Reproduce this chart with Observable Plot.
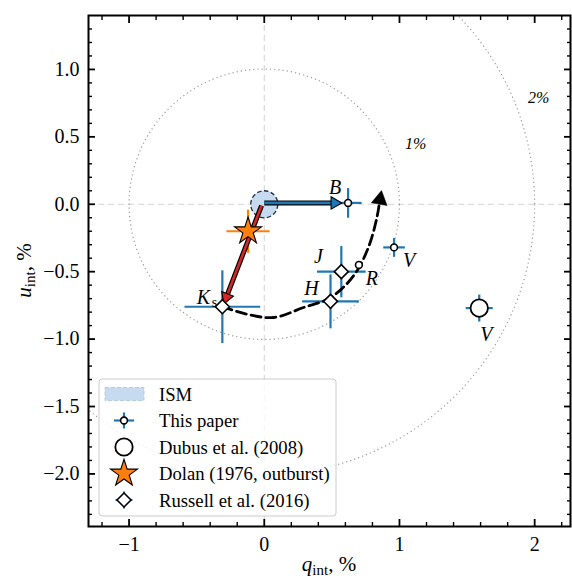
<!DOCTYPE html>
<html><head><meta charset="utf-8">
<script src="https://cdn.jsdelivr.net/npm/d3@7"></script>
<script src="https://cdn.jsdelivr.net/npm/@observablehq/plot@0.6"></script>
<style>
body{margin:0;background:#fff;}
#chart{width:572px;height:579px;}
</style></head><body><div id="chart"></div>
<script>
// ---------------- data ----------------
const thisPaperBand = ["B", "V", "R"];
const thisPaperQ = [0.62, 0.96, 0.70];
const thisPaperU = [0.01, -0.32, -0.45];
const thisPaperQErr = [0.10, 0.08, 0.02];
const thisPaperUErr = [0.11, 0.07, 0.02];

const dubusBand = ["V"];
const dubusQ = [1.59];
const dubusU = [-0.77];
const dubusQErr = [0.10];
const dubusUErr = [0.10];

const dolanQ = [-0.12];
const dolanU = [-0.20];
const dolanQErr = [0.16];
const dolanUErr = [0.16];

const russellBand = ["Ks", "J", "H"];
const russellQ = [-0.31, 0.57, 0.49];
const russellU = [-0.76, -0.50, -0.72];
const russellQErr = [0.28, 0.18, 0.21];
const russellUErr = [0.27, 0.19, 0.20];

const ismQ = [0.0];
const ismU = [0.0];
const ismRadius = [0.1];

const circleRadii = [1, 2];
const circleLabels = ["1%", "2%"];
const circleLabelQ = [1.12, 2.03];
const circleLabelU = [0.45, 0.79];

// ISM -> B and ISM -> Ks arrows
const arrowFromQ = [0.0, -0.02];
const arrowFromU = [0.01, -0.01];
const arrowToQ = [0.575, -0.30];
const arrowToU = [0.01, -0.74];

// dashed rotation path
const arcQ = [-0.31, -0.13, 0.07, 0.29, 0.49, 0.66, 0.77, 0.833, 0.85];
const arcU = [-0.76, -0.815, -0.84, -0.766, -0.692, -0.531, -0.321, -0.099, 0.0];

const xTicks = [-1, 0, 1, 2];
const yTicks = [1.0, 0.5, 0.0, -0.5, -1.0, -1.5, -2.0];
const xMinorTicks = [-1.2, -0.8, -0.6, -0.4, -0.2, 0.2, 0.4, 0.6, 0.8, 1.2, 1.4, 1.6, 1.8, 2.2];
const yMinorTicks = [1.3, 1.2, 1.1, 0.9, 0.8, 0.7, 0.6, 0.4, 0.3, 0.2, 0.1, -0.1, -0.2, -0.3, -0.4,
  -0.6, -0.7, -0.8, -0.9, -1.1, -1.2, -1.3, -1.4, -1.6, -1.7, -1.8, -1.9, -2.1, -2.2, -2.3];
const legendLabels = ["ISM", "This paper", "Dubus et al. (2008)", "Dolan (1976, outburst)", "Russell et al. (2016)"];

// ---------------- layout ----------------
const W = 572, H = 579, mL = 88, mR = 2, mT = 15, mB = 53;
const xDomain = [-1.30, 2.265], yDomain = [-2.39, 1.40];
const k = (W - mL - mR) / (xDomain[1] - xDomain[0]);
const FONT = "'Liberation Serif', 'Times New Roman', serif";
const BLUE = "#1f77b4", ORANGE = "#ff7f0e", RED = "#d62728";

const rows = (band, q, u, eq, eu) => q.map((_, i) => ({band: band ? band[i] : "", q: q[i], u: u[i], eq: eq[i], eu: eu[i]}));
const tp = rows(thisPaperBand, thisPaperQ, thisPaperU, thisPaperQErr, thisPaperUErr);
const dub = rows(dubusBand, dubusQ, dubusU, dubusQErr, dubusUErr);
const dol = rows(null, dolanQ, dolanU, dolanQErr, dolanUErr);
const rus = rows(russellBand, russellQ, russellU, russellQErr, russellUErr);
const ism = ismQ.map((q, i) => ({q, u: ismU[i], r: ismRadius[i]}));
const rings = circleRadii.map(r => ({r}));
const ringLabels = circleLabels.map((t, i) => ({t, q: circleLabelQ[i], u: circleLabelU[i]}));
const arc = arcQ.map((q, i) => ({q, u: arcU[i]}));

// arrow geometry (equal aspect => data-space directions are screen directions)
const headLen = 11 / k;
const arrows = arrowFromQ.map((q, i) => {
  const dx = arrowToQ[i] - q, dy = arrowToU[i] - arrowFromU[i];
  const L = Math.hypot(dx, dy), ux = dx / L, uy = dy / L;
  return {
    q1: q, u1: arrowFromU[i],
    qb: arrowToQ[i] - ux * headLen, ub: arrowToU[i] - uy * headLen,
    qc: arrowToQ[i] - ux * headLen * 2 / 3, uc: arrowToU[i] - uy * headLen * 2 / 3,
    rot: Math.atan2(dx, dy) * 180 / Math.PI,
    color: i === 0 ? BLUE : RED
  };
});
const aN = arc.length;
const adx = arc[aN - 1].q - arc[aN - 2].q, ady = arc[aN - 1].u - arc[aN - 2].u;
const aL = Math.hypot(adx, ady);
const arcHead = [{
  q: arc[aN - 1].q + adx / aL * (4.7 / k),
  u: arc[aN - 1].u + ady / aL * (4.7 / k),
  rot: Math.atan2(adx, ady) * 180 / Math.PI
}];

const errMarks = (data, color) => [
  Plot.link(data, {x1: d => d.q - d.eq, x2: d => d.q + d.eq, y1: "u", y2: "u", stroke: color, strokeWidth: 2.2}),
  Plot.link(data, {x1: "q", x2: "q", y1: d => d.u - d.eu, y2: d => d.u + d.eu, stroke: color, strokeWidth: 2.2})
];

const labelOffsets = {
  B: [-13, -15, tp, 0], V: [15, 13, tp, 1], R: [13, 14, tp, 2],
  J: [-23, -15, rus, 1], H: [-19, -13, rus, 2], Ks: [-19, -9, rus, 0], VD: [7, 27, dub, 0]
};
const labelMarks = Object.entries(labelOffsets).map(([key, [dx, dy, arr, i]]) =>
  Plot.text([arr[i]], {x: "q", y: "u", text: () => key === "VD" ? "V" : key === "Ks" ? "K" : key,
    dx, dy, fontSize: 20, fontStyle: "italic", fill: "black", fontFamily: FONT}));
labelMarks.push(Plot.text([rus[0]], {x: "q", y: "u", text: () => "s", dx: -8, dy: -4, fontSize: 14, fill: "black", fontFamily: FONT}));

const fmtY = d => (d < 0 ? "\u2212" : "") + Math.abs(d).toFixed(1);
const fmtX = d => (d < 0 ? "\u2212" : "") + Math.abs(d).toFixed(0);

const plot = Plot.plot({
  width: W, height: H,
  marginLeft: mL, marginRight: mR, marginTop: mT, marginBottom: mB,
  x: {domain: xDomain},
  y: {domain: yDomain},
  r: {type: "linear", domain: [0, 1], range: [0, k]},
  style: {fontFamily: FONT, fontSize: "17px", color: "black", background: "white", overflow: "visible"},
  marks: [
    Plot.ruleX([0], {stroke: "#d4d4d4", strokeDasharray: "6,4", strokeWidth: 1.1}),
    Plot.ruleY([0], {stroke: "#d4d4d4", strokeDasharray: "6,4", strokeWidth: 1.1}),
    Plot.dot(rings, {x: () => 0, y: () => 0, r: "r", fill: "none", stroke: "#9c9c9c", strokeWidth: 1.2, strokeDasharray: "1.2,3", clip: true}),
    Plot.text(ringLabels, {x: "q", y: "u", text: "t", fontSize: 16, fontStyle: "italic", fill: "black", fontFamily: FONT}),
    Plot.dot(ism, {x: "q", y: "u", r: "r", fill: "#c6dbef", stroke: "#1d2b45", strokeWidth: 1.3, strokeDasharray: "4.5,2.5"}),
    ...errMarks(tp, BLUE),
    ...errMarks(dub, BLUE),
    ...errMarks(rus, BLUE),
    ...errMarks(dol, ORANGE),
    Plot.line(arc, {x: "q", y: "u", curve: "catmull-rom", stroke: "black", strokeWidth: 2.8, strokeDasharray: "10,5"}),
    Plot.dot(arcHead, {x: "q", y: "u", symbol: "triangle", r: 5.9, rotate: "rot", fill: "black", stroke: "black", strokeWidth: 0.5}),
    Plot.link(arrows, {x1: "q1", y1: "u1", x2: "qb", y2: "ub", stroke: "black", strokeWidth: 5}),
    Plot.link(arrows, {x1: "q1", y1: "u1", x2: "qb", y2: "ub", stroke: "color", strokeWidth: 2.6}),
    Plot.dot(arrows, {x: "qc", y: "uc", symbol: "triangle", r: 4.6, rotate: "rot", fill: "color", stroke: "black", strokeWidth: 1.1}),
    Plot.dot(dol, {x: "q", y: "u", symbol: "star", r: 8.5, fill: ORANGE, stroke: "black", strokeWidth: 1.1}),
    Plot.dot(rus, {x: "q", y: "u", symbol: "diamond2", r: 6.3, fill: "white", stroke: "black", strokeWidth: 1.6}),
    Plot.dot(tp, {x: "q", y: "u", r: 3.4, fill: "white", stroke: "black", strokeWidth: 1.6}),
    Plot.dot(dub, {x: "q", y: "u", r: 8.7, fill: "white", stroke: "black", strokeWidth: 1.8}),
    ...labelMarks,
    Plot.frame({stroke: "black", strokeWidth: 2}),
    // ticks inward on all sides
    Plot.axisX(xTicks, {anchor: "bottom", tickSize: -7, strokeWidth: 1.8, fill: "none", label: null}),
    Plot.axisX(xTicks, {anchor: "top", tickSize: -7, strokeWidth: 1.8, fill: "none", label: null}),
    Plot.axisX(xMinorTicks, {anchor: "bottom", tickSize: -4, strokeWidth: 1.4, fill: "none", label: null}),
    Plot.axisX(xMinorTicks, {anchor: "top", tickSize: -4, strokeWidth: 1.4, fill: "none", label: null}),
    Plot.axisY(yTicks, {anchor: "left", tickSize: -7, strokeWidth: 1.8, fill: "none", label: null}),
    Plot.axisY(yTicks, {anchor: "right", tickSize: -7, strokeWidth: 1.8, fill: "none", label: null}),
    Plot.axisY(yMinorTicks, {anchor: "left", tickSize: -4, strokeWidth: 1.4, fill: "none", label: null}),
    Plot.axisY(yMinorTicks, {anchor: "right", tickSize: -4, strokeWidth: 1.4, fill: "none", label: null}),
    Plot.axisX(xTicks, {anchor: "bottom", tickSize: 0, tickPadding: 10, tickFormat: fmtX, fontSize: 20, fontFamily: FONT, fill: "black", label: null}),
    Plot.axisY(yTicks, {anchor: "left", tickSize: 0, tickPadding: 9, tickFormat: fmtY, fontSize: 20, fontFamily: FONT, fill: "black", label: null})
  ]
});
document.getElementById("chart").appendChild(plot);

// ---------------- axis titles & legend ----------------
const svgSel = d3.select(plot);
const xs = plot.scale("x"), ys = plot.scale("y");
const frameL = xs.range[0], frameR = xs.range[1], frameB = ys.range[0], frameT = ys.range[1];

const xl = svgSel.append("text").attr("x", (frameL + frameR) / 2).attr("y", H - 8)
  .attr("text-anchor", "middle").attr("font-family", FONT).attr("font-size", 21).attr("fill", "black");
xl.append("tspan").attr("font-style", "italic").text("q");
xl.append("tspan").attr("font-size", 15).attr("dy", 4).text("int");
xl.append("tspan").attr("dy", -4).text(", %");

const yl = svgSel.append("text").attr("transform", `translate(${31},${(frameT + frameB) / 2}) rotate(-90)`)
  .attr("text-anchor", "middle").attr("font-family", FONT).attr("font-size", 21).attr("fill", "black");
yl.append("tspan").attr("font-style", "italic").text("u");
yl.append("tspan").attr("font-size", 15).attr("dy", 4).text("int");
yl.append("tspan").attr("dy", -4).text(", %");

const lg = svgSel.append("g").attr("transform", `translate(${frameL + 11},${frameB - 147})`);
lg.append("rect").attr("width", 237).attr("height", 137).attr("rx", 3)
  .attr("fill", "white").attr("fill-opacity", 0.8).attr("stroke", "#cccccc").attr("stroke-width", 1);
const mx = 25, tx = 60, row0 = 15, step = 26.5;
legendLabels.forEach((t, i) => {
  lg.append("text").attr("x", tx).attr("y", row0 + i * step).attr("dy", "0.35em")
    .attr("text-anchor", "start")
    .attr("font-family", FONT).attr("font-size", 18.7).attr("fill", "black").text(t);
});
// ISM patch
lg.append("rect").attr("x", mx - 19).attr("y", row0 - 6.5).attr("width", 39).attr("height", 13)
  .attr("fill", "#c6dbef").attr("stroke", "#b3cde3").attr("stroke-dasharray", "4,2");
// This paper
let cy = row0 + step;
lg.append("line").attr("x1", mx - 10).attr("x2", mx + 10).attr("y1", cy).attr("y2", cy).attr("stroke", BLUE).attr("stroke-width", 2.2);
lg.append("line").attr("x1", mx).attr("x2", mx).attr("y1", cy - 8).attr("y2", cy + 8).attr("stroke", BLUE).attr("stroke-width", 2.2);
lg.append("circle").attr("cx", mx).attr("cy", cy).attr("r", 3.4).attr("fill", "white").attr("stroke", "black").attr("stroke-width", 1.6);
// Dubus
cy = row0 + 2 * step;
lg.append("circle").attr("cx", mx).attr("cy", cy).attr("r", 8.7).attr("fill", "white").attr("stroke", "black").attr("stroke-width", 1.8);
// Dolan
cy = row0 + 3 * step;
lg.append("path").attr("d", d3.symbol(d3.symbolStar, Math.PI * 8.5 * 8.5)()).attr("transform", `translate(${mx},${cy})`)
  .attr("fill", ORANGE).attr("stroke", "black").attr("stroke-width", 1.1);
// Russell
cy = row0 + 4 * step;
lg.append("line").attr("x1", mx - 8.5).attr("x2", mx + 8.5).attr("y1", cy).attr("y2", cy).attr("stroke", BLUE).attr("stroke-width", 2.2);
lg.append("line").attr("x1", mx).attr("x2", mx).attr("y1", cy - 8.5).attr("y2", cy + 8.5).attr("stroke", BLUE).attr("stroke-width", 2.2);
lg.append("path").attr("d", d3.symbol(d3.symbolDiamond2, Math.PI * 6.3 * 6.3)()).attr("transform", `translate(${mx},${cy})`)
  .attr("fill", "white").attr("stroke", "black").attr("stroke-width", 1.6);
</script></body></html>
